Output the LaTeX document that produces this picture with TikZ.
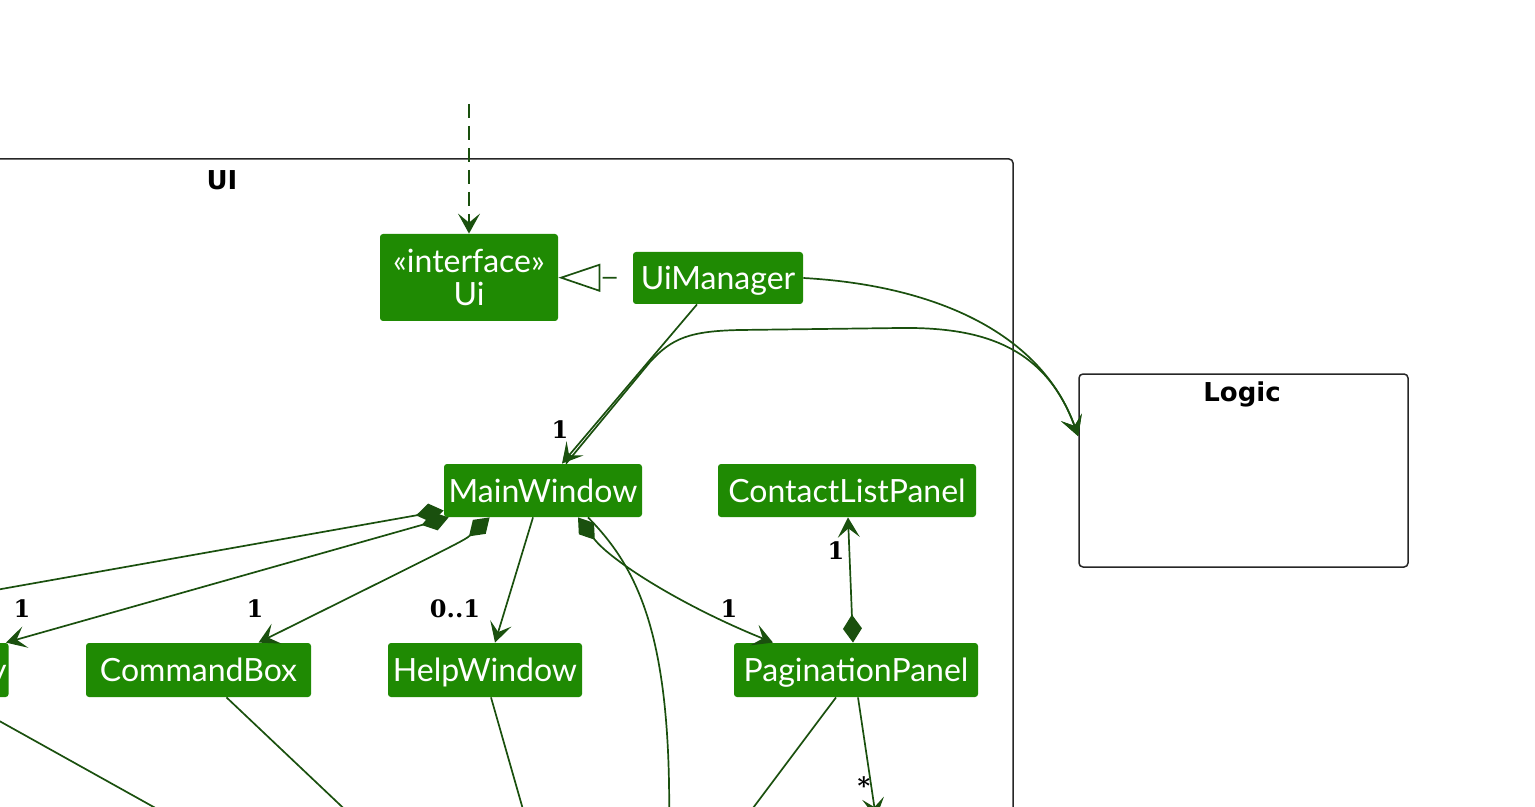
\documentclass[tikz,border=0pt]{standalone}
\usepackage{fontspec}
\setmainfont{Lato}
\newfontfamily\multfont{DejaVu Serif}
\newfontfamily\pkgfont{DejaVu Sans}
\usetikzlibrary{arrows.meta}

\definecolor{clsgreen}{RGB}{31,138,3}
\definecolor{edgegreen}{RGB}{26,80,14}
\tikzset{
  cls/.style={fill=clsgreen, text=white, rounded corners=1.5pt, inner sep=0pt,
    font=\fontsize{16}{16.5}\selectfont},
  oneline/.style={cls, text height=11.5pt, text depth=0pt},
  pkg/.style={draw=black!85, line width=0.75pt, rounded corners=2pt},
  pkgtitle/.style={font=\pkgfont\bfseries\fontsize{13}{15}\selectfont},
  mult/.style={font=\multfont\bfseries\fontsize{12}{14}\selectfont, inner sep=0pt},
  link/.style={draw=edgegreen, line width=0.85pt},
  assoc/.style={link, -{Stealth[length=10pt, width=11pt, inset=4.5pt]}},
  comp/.style={link, {Diamond[length=14pt, width=9.5pt]}-{Stealth[length=10pt, width=11pt, inset=4.5pt]}},
  compline/.style={link, {Diamond[length=14pt, width=9.5pt]}-},
  dep/.style={assoc, dash pattern=on 7pt off 4pt},
  realize/.style={link, dash pattern=on 7pt off 4pt, -{Triangle[open, length=21pt, width=14pt]}}
}

\begin{document}
\begin{tikzpicture}[x=0.5pt, y=-0.5pt]
\useasboundingbox (0,0) rectangle (1535,807);
\clip (0,0) rectangle (1535,807);

% packages
\draw[pkg] (-40,159) rectangle (1013,860);
\node[pkgtitle] (uititle) at (222,180) {UI};
\node[pkg, minimum width=164.5pt, minimum height=96.5pt] (logic) at (1243.5,470.5) {};
\node[pkgtitle] (logictitle) at (1242,394) {Logic};

% classes
\node[cls, align=center, minimum width=89pt, minimum height=43.5pt] (ui) at (469,277.5) {«interface»\\Ui};
\begin{scope}[every node/.style={oneline, minimum height=26.5pt}]
  \node[minimum width=85pt, minimum height=26pt] (uimanager) at (718,278) {UiManager};
  \node[minimum width=99pt] (mainwindow) at (543,490.5) {MainWindow};
  \node[minimum width=129pt] (contactlistpanel) at (847,490.5) {ContactListPanel};
  \node[anchor=east, inner xsep=1pt, minimum height=27pt] (resultdisplay) at (9,670) {ResultDisplay};
  \node[minimum width=112.5pt, minimum height=27pt] (commandbox) at (198.5,670) {CommandBox};
  \node[minimum width=97pt, minimum height=27pt] (helpwindow) at (485,670) {HelpWindow};
  \node[minimum width=122pt, minimum height=27pt] (paginationpanel) at (856,670) {PaginationPanel};
\end{scope}

% free ends
\coordinate (uiin) at (469,104);
\coordinate (logicin) at ([yshift=-31.5pt]logic.north west);
\coordinate (farleft) at (-100,607);
\coordinate (mwdown) at (669,830);
\coordinate (pagedown) at (876,818);
\coordinate (pageleft) at (744,820);
\coordinate (helpdown) at (526,820);
\coordinate (cmddown) at (356,820);
\coordinate (resdown) at (177,820);

% connectors
\draw[dep] (uiin) -- (ui);
\draw[realize, shorten <=8pt] (uimanager) -- (ui);
\draw[assoc] (uimanager.east) .. controls (930,285) and (1040,330) .. (logicin);
\draw[assoc] ([xshift=-10.5pt]uimanager.south) -- ([xshift=9.5pt]mainwindow.north);
\draw[assoc] ([xshift=11.5pt]mainwindow.north) -- (650,362) .. controls (672,338) and (690,331) .. (740,330)
  -- (900,328) .. controls (980,327) and (1045,345) .. (logicin);

\draw[compline] ([yshift=-10pt]mainwindow.west) -- (farleft);
\draw[comp] ([xshift=2.5pt]mainwindow.south west) -- ([xshift=-1.5pt]resultdisplay.north east);
\draw[comp] ([xshift=23pt]mainwindow.south west) .. controls (465,540) .. ([xshift=30pt]commandbox.north);
\draw[assoc] ([xshift=-5pt]mainwindow.south) -- ([xshift=5pt]helpwindow.north);
\draw[comp] ([xshift=17.5pt]mainwindow.south) .. controls (610,560) and (680,605) .. ([xshift=-41.5pt]paginationpanel.north);
\draw[link] ([xshift=22.5pt]mainwindow.south) .. controls (640,570) and (672,640) .. (mwdown);
\draw[comp] ([xshift=-1.5pt]paginationpanel.north) -- ([xshift=0.5pt]contactlistpanel.south);

\draw[assoc] ([xshift=1pt]paginationpanel.south) -- (pagedown);
\draw[link] ([xshift=-10pt]paginationpanel.south) -- (pageleft);
\draw[link] ([xshift=3pt]helpwindow.south) -- (helpdown);
\draw[link] ([xshift=14pt]commandbox.south) -- (cmddown);
\draw[link] ([xshift=-26pt]resultdisplay.south east) -- (resdown);

% multiplicities
\begin{scope}[every node/.style={mult}]
  \node (m1) at (560,430) {1};
  \node (m2) at (22,609) {1};
  \node (m3) at (255,609) {1};
  \node (m4) at (455,609) {0..1};
  \node (m5) at (729,609) {1};
  \node (m6) at (836,551) {1};
  \node (m7) at (864,786) {*};
\end{scope}
\end{tikzpicture}
\end{document}
